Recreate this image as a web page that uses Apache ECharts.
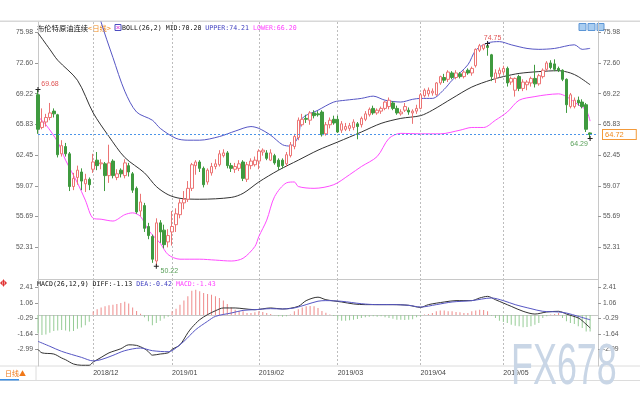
<!DOCTYPE html>
<html><head><meta charset="utf-8">
<script src="https://cdn.jsdelivr.net/npm/echarts@6/dist/echarts.min.js"></script>
<style>html,body{margin:0;padding:0;background:#fff}#c{width:640px;height:400px}</style>
</head><body><div id="c"></div>
<script>
const categories = [
'2018/11/13','2018/11/14','2018/11/15','2018/11/16','2018/11/19','2018/11/20','2018/11/21','2018/11/22','2018/11/23','2018/11/26','2018/11/27','2018/11/28','2018/11/29','2018/11/30',
'2018/12/03','2018/12/04','2018/12/05','2018/12/06','2018/12/07','2018/12/10','2018/12/11','2018/12/12','2018/12/13','2018/12/14','2018/12/17','2018/12/18','2018/12/19','2018/12/20','2018/12/21','2018/12/24','2018/12/26','2018/12/27','2018/12/28','2018/12/31',
'2019/01/02','2019/01/03','2019/01/04','2019/01/07','2019/01/08','2019/01/09','2019/01/10','2019/01/11','2019/01/14','2019/01/15','2019/01/16','2019/01/17','2019/01/18','2019/01/21','2019/01/22','2019/01/23','2019/01/24','2019/01/25','2019/01/28','2019/01/29','2019/01/30','2019/01/31',
'2019/02/01','2019/02/04','2019/02/05','2019/02/06','2019/02/07','2019/02/08','2019/02/11','2019/02/12','2019/02/13','2019/02/14','2019/02/15','2019/02/18','2019/02/19','2019/02/20','2019/02/21','2019/02/22','2019/02/25','2019/02/26','2019/02/27','2019/02/28',
'2019/03/01','2019/03/04','2019/03/05','2019/03/06','2019/03/07','2019/03/08','2019/03/11','2019/03/12','2019/03/13','2019/03/14','2019/03/15','2019/03/18','2019/03/19','2019/03/20','2019/03/21','2019/03/22','2019/03/25','2019/03/26','2019/03/27','2019/03/28','2019/03/29',
'2019/04/01','2019/04/02','2019/04/03','2019/04/04','2019/04/05','2019/04/08','2019/04/09','2019/04/10','2019/04/11','2019/04/12','2019/04/15','2019/04/16','2019/04/17','2019/04/18','2019/04/22','2019/04/23','2019/04/24','2019/04/25','2019/04/26','2019/04/29','2019/04/30',
'2019/05/01','2019/05/02','2019/05/03','2019/05/06','2019/05/07','2019/05/08','2019/05/09','2019/05/10','2019/05/13','2019/05/14','2019/05/15','2019/05/16','2019/05/17','2019/05/20','2019/05/21','2019/05/22','2019/05/23','2019/05/24','2019/05/28','2019/05/29','2019/05/30','2019/05/31',
'2019/06/03'];
const padSlots = [' ', '  '];
const monthStarts = ['2018/12/03','2019/01/02','2019/02/01','2019/03/01','2019/04/01','2019/05/01'];

// [open, close, low, high]
const candles = [
[69.1,65.3,64.8,69.68],[65.5,66.1,65.3,67.6],[66.1,66.6,65.6,67.0],[66.6,67.1,66.3,68.2],[67.3,67.0,66.6,67.6],
[66.9,62.5,62.2,67.0],[62.6,63.5,62.3,64.1],[63.4,62.6,62.3,63.8],[62.6,59.0,58.5,62.8],[59.0,59.9,58.6,60.5],
[60.0,60.8,59.2,61.3],[60.6,59.6,58.6,61.0],[59.3,59.8,58.4,60.4],[59.8,59.2,58.6,60.0],
[60.9,61.7,60.5,62.6],[61.9,61.3,60.8,62.8],[61.5,61.6,60.9,62.0],[61.5,60.2,58.5,61.7],[60.2,61.6,59.4,63.6],
[61.8,60.2,59.9,62.0],[60.0,60.4,59.7,60.9],[60.8,60.4,60.0,61.0],[60.2,61.6,59.9,62.0],[61.3,60.6,60.1,61.6],
[60.4,58.6,58.3,60.6],[58.8,56.2,56.0,59.0],[56.3,57.3,55.7,58.2],[56.9,54.4,54.0,57.2],[54.6,53.6,53.2,55.0],
[53.5,51.0,50.6,53.7],[50.8,55.0,50.22,55.5],[55.0,54.0,52.8,55.3],[54.2,52.6,52.2,54.8],[52.9,53.6,52.3,54.3],
[54.0,54.6,52.5,56.3],[54.8,56.0,54.0,56.6],[55.9,57.2,55.5,57.6],[57.2,57.6,56.5,58.5],[57.6,58.8,57.3,59.6],
[58.8,61.4,58.5,61.6],[61.3,61.7,60.3,61.9],[61.7,61.0,60.6,61.9],[61.0,59.2,58.9,61.2],[59.5,60.8,59.2,61.0],
[60.5,61.2,60.2,61.6],[61.2,61.5,60.9,62.0],[61.4,62.6,61.2,63.0],[62.4,62.7,62.2,63.1],[62.7,61.3,61.0,62.9],
[61.3,61.0,60.6,61.6],[60.9,61.2,60.5,61.6],[61.0,61.5,60.7,61.9],[61.7,59.9,59.6,61.9],[59.8,61.4,59.5,61.7],
[61.3,61.8,60.9,62.1],[61.4,61.9,61.2,62.3],
[61.8,62.9,60.9,63.1],[62.8,63.0,62.4,63.2],[62.7,62.1,61.9,63.0],[61.9,62.7,61.8,63.1],[62.4,61.6,61.4,62.6],
[61.9,61.2,60.8,62.1],[61.9,61.3,61.0,62.1],[61.5,62.5,61.2,62.8],[62.4,63.6,62.2,63.9],[63.4,64.5,63.1,64.8],
[64.4,66.3,64.1,66.6],[65.8,66.4,65.6,67.0],[66.5,66.4,66.0,66.9],[66.3,67.1,65.8,67.3],[67.1,66.8,66.5,67.4],
[67.0,66.9,66.7,67.3],[67.2,64.7,64.5,67.4],[64.8,65.8,64.6,66.1],[65.8,66.3,65.4,66.6],[66.4,66.0,65.8,66.8],
[66.4,65.0,64.9,66.8],[65.2,65.9,64.9,66.2],[65.3,65.6,65.1,66.0],[65.4,65.7,65.1,66.0],[65.5,66.1,65.2,66.4],
[65.9,65.6,64.2,66.1],[65.8,66.5,65.5,66.7],[66.4,67.0,66.2,67.3],[66.9,67.5,66.7,67.7],[67.6,67.1,66.9,67.9],
[67.1,67.4,66.9,67.6],[67.3,67.6,67.0,67.8],[67.6,68.3,67.4,68.4],[67.8,68.5,67.5,68.8],[68.2,67.6,67.4,68.4],
[67.6,67.1,66.9,67.9],[67.0,67.2,66.8,67.5],[67.4,67.8,67.2,68.2],[67.4,67.2,66.9,67.7],[67.1,67.3,65.9,67.5],
[67.3,67.6,67.0,68.0],
[67.6,69.1,67.5,69.3],[69.0,69.6,68.8,69.8],[69.2,69.6,68.9,69.9],[69.3,69.5,69.0,69.8],[69.1,70.4,69.0,70.5],
[70.4,71.1,70.2,71.2],[71.0,70.7,70.4,71.4],[70.8,71.6,70.5,71.8],[71.5,71.0,70.8,71.7],[71.0,71.5,70.8,71.8],
[71.4,71.1,70.9,71.6],[71.1,71.6,70.9,71.8],[71.8,71.5,71.3,72.0],[71.5,72.0,71.2,72.2],[72.3,74.1,72.1,74.2],
[74.0,74.5,73.8,74.7],[74.2,74.6,74.0,74.7],[74.5,74.3,73.4,74.75],[73.5,71.1,70.6,73.6],[70.9,71.5,70.4,71.9],
[71.4,71.8,71.0,72.1],
[71.6,72.0,71.3,72.3],[72.0,70.4,70.0,72.2],[70.5,70.9,70.2,71.1],[69.6,70.9,68.9,71.0],[71.1,69.8,69.5,71.3],
[69.8,70.5,69.5,70.8],[70.2,70.5,69.6,70.7],[70.4,70.9,70.0,71.1],[70.9,70.3,69.9,72.4],[70.3,71.2,70.1,71.4],
[71.1,71.8,70.9,72.0],[71.9,72.6,71.7,72.8],[72.6,72.1,71.9,72.9],[72.5,71.9,71.7,73.0],[72.0,71.8,71.6,72.2],
[71.8,70.8,70.6,71.9],[70.8,68.0,67.1,70.9],[67.8,69.1,67.6,69.3],[67.8,68.5,67.6,68.8],[68.5,68.2,67.9,68.9],
[68.3,67.8,67.6,68.6],[68.0,65.3,65.0,68.2],
[64.9,64.72,64.29,64.95]];

// Bollinger key points: [candle index, value]
const bollMid = [[0,75.9],[3,74.1],[5,72.9],[10,70.7],[14,67.1],[18,64.5],[22,62.2],[27,60.5],[30,59.0],[33,58.1],[36,57.7],[41,57.6],[49,57.8],[52,58.25],[56,59.5],[61,60.8],[66,61.9],[71,63.0],[76,63.9],[82,65.0],[87,65.95],[92,66.5],[97,66.8],[100,67.4],[105,68.7],[110,69.95],[115,70.75],[118,71.1],[122,71.45],[127,71.65],[132,71.75],[135,71.5],[137,71.1],[140,70.2]];
const bollUpper = [[13,80.5],[15,79.0],[16,77.1],[19,73.2],[22,69.5],[25,67.2],[29,66.3],[31,65.4],[35,64.3],[38,64.1],[41,64.1],[46,64.5],[50,65.1],[54,65.6],[56,65.4],[59,64.65],[62,63.6],[64,63.45],[66,64.5],[67,66.5],[71,67.4],[75,68.3],[78,68.5],[82,68.7],[85,68.95],[88,68.5],[92,68.3],[95,68.6],[97,68.7],[100,68.7],[103,69.7],[105,70.7],[109,72.4],[111,74.0],[114,74.8],[117,74.95],[120,74.6],[124,74.2],[127,74.1],[131,74.2],[136,74.6],[138,74.1],[140,74.21]];
const bollLower = [[0,66.7],[2,65.8],[5,63.9],[7,61.9],[10,59.4],[12,57.5],[14,55.5],[16,55.4],[19,55.2],[22,55.9],[24,56.1],[26,55.7],[28,54.2],[31,52.75],[33,51.5],[36,51.0],[41,51.0],[45,50.9],[49,50.8],[52,51.1],[55,52.4],[56,53.5],[58,55.3],[60,57.9],[63,59.4],[65,59.5],[66,59.0],[70,58.8],[75,59.2],[79,60.3],[82,61.2],[86,62.3],[89,64.3],[92,64.85],[97,64.8],[102,64.8],[107,65.2],[110,65.5],[113,65.5],[116,66.3],[119,67.2],[122,68.5],[126,68.9],[129,69.1],[132,69.2],[134,68.9],[137,68.0],[139,67.4],[140,66.2]];

// MACD
const macdDiff = [[0,-3.0],[1,-3.3],[4,-3.4],[6,-3.75],[7,-3.9],[9,-4.27],[11,-4.38],[13,-4.38],[14,-4.1],[16,-3.7],[18,-3.3],[21,-2.94],[23,-2.6],[25,-2.65],[27,-2.94],[28,-3.2],[29,-3.5],[31,-3.4],[33,-3.3],[34,-3.0],[36,-2.6],[38,-1.55],[39,-1.1],[41,-0.41],[43,0.03],[45,0.37],[47,0.61],[50,0.61],[52,0.55],[55,0.46],[59,0.61],[62,0.52],[66,0.75],[68,1.25],[71,1.55],[73,1.33],[77,1.13],[80,0.96],[83,0.9],[90,0.9],[94,0.84],[97,0.66],[99,0.9],[103,1.13],[106,1.25],[110,1.25],[112,1.48],[114,1.62],[116,1.33],[120,0.75],[123,0.32],[126,0.08],[129,0.26],[132,0.32],[134,0.08],[137,-0.26],[138,-0.5],[140,-1.13]];
const macdDea = [[0,-2.3],[3,-2.73],[6,-3.17],[11,-3.69],[14,-4.0],[16,-3.89],[19,-3.52],[22,-3.11],[26,-2.88],[29,-3.11],[33,-3.2],[34,-3.11],[37,-2.3],[40,-1.28],[43,-0.55],[45,-0.12],[49,0.17],[52,0.4],[55,0.46],[59,0.55],[62,0.52],[65,0.61],[68,0.9],[71,1.2],[73,1.25],[77,1.19],[82,0.98],[86,0.9],[90,0.9],[94,0.84],[97,0.69],[101,0.9],[105,1.13],[110,1.25],[115,1.48],[118,1.25],[121,0.9],[125,0.55],[128,0.32],[132,0.26],[134,0.17],[137,-0.12],[140,-0.42]];
const macdHist = [
-1.6,-1.75,-1.7,-1.55,-1.4,-1.35,-1.3,-1.35,-1.45,-1.4,-1.2,-1.1,-0.9,-0.6,
0.3,0.5,0.65,0.75,0.85,0.9,0.95,1.05,1.15,1.0,0.65,0.35,0.1,
-0.2,-0.55,-0.9,-0.7,-0.5,-0.3,-0.15,
0.32,0.55,0.9,1.25,1.62,2.12,2.2,2.06,1.91,1.83,1.77,1.62,1.48,1.25,0.96,0.66,0.46,0.32,0.32,0.17,0.17,0.23,0.32,0.26,0.17,0.08,
-0.03,-0.12,-0.15,-0.12,
0.03,0.32,0.5,0.65,0.75,0.78,0.75,0.6,0.35,0.2,0.05,-0.1,
-0.4,-0.5,-0.5,-0.47,-0.41,-0.35,-0.26,-0.2,-0.15,-0.12,-0.15,-0.12,-0.2,-0.26,-0.32,-0.41,-0.41,-0.44,-0.41,-0.38,-0.2,
-0.1,0.03,0.08,0.17,0.32,0.38,0.38,0.32,0.32,0.26,0.23,0.17,0.17,0.32,0.38,0.46,0.43,0.32,
-0.06,-0.26,-0.5,-0.61,-0.7,-0.85,-0.93,-0.99,-1.08,-1.05,-0.99,-0.85,-0.7,-0.26,-0.12,0.03,0.08,0.17,-0.26,-0.55,-0.7,-0.79,-0.99,-1.14,-1.43,-1.43];

const priceTickLabels = ['52.31','55.69','59.07','62.45','65.83','69.22','72.60','75.98'];
const macdTickLabels = ['-2.99','-1.64','-0.29','1.06','2.41'];
const lastPrice = 64.72;
// extremes: [candle index, value, side]
const extremes = [[0,69.68,'high'],[30,50.22,'low'],[114,74.75,'high'],[140,64.29,'low']];

const UP = '#ec7474', DOWN = '#3f9a3f';
const axisFont = 'Liberation Sans';
const mono = 'DejaVu Sans Mono';
const xData = categories.concat(padSlots);
const isMonth = (i, v) => monthStarts.indexOf(v) >= 0;

const priceVals = priceTickLabels.map(Number);
const macdVals = macdTickLabels.map(Number);

function yAx(grid, pos, min, max, vals) {
  return {
    type: 'value', gridIndex: grid, position: pos, min: min, max: max, scale: true,
    axisLine: {show: true, lineStyle: {color: '#c8c8c8'}},
    axisTick: {show: true, length: 3, customValues: vals, lineStyle: {color: '#999'}},
    axisLabel: {show: true, customValues: vals, formatter: v => v.toFixed(2), fontSize: 6.8, color: '#555', fontFamily: axisFont, margin: 5},
    splitLine: {show: false}
  };
}

const markPts = extremes.map(e => {
  const hi = e[2] === 'high';
  let off;
  if (e[0] === 0) off = [12, -5];
  else if (e[0] > 130) off = [-11, 6];
  else if (hi) off = [5, -5];
  else off = [13, 5];
  return {
    coord: [e[0], e[1]], value: e[1].toFixed(2),
    label: {show: true, position: 'inside', offset: off, color: hi ? '#e05555' : '#5aa05a', fontSize: 7, fontFamily: axisFont}
  };
});

const chart = echarts.init(document.getElementById('c'), null, {renderer: 'canvas'});
chart.setOption({
  animation: false,
  backgroundColor: '#fff',
  grid: [
    {left: 38, top: 22, width: 560, height: 257},
    {left: 38, top: 279, width: 560, height: 87}
  ],
  xAxis: [
    {type: 'category', gridIndex: 0, data: xData, boundaryGap: false,
     axisLine: {show: true, lineStyle: {color: '#c8c8c8'}}, axisTick: {show: false}, axisLabel: {show: false},
     splitLine: {show: true, interval: isMonth, lineStyle: {color: '#bdbdbd', type: [2, 2]}}},
    {type: 'category', gridIndex: 1, data: xData, boundaryGap: false,
     axisLine: {show: true, lineStyle: {color: '#c8c8c8'}}, axisTick: {show: false},
     axisLabel: {show: true, interval: isMonth, formatter: v => v.slice(0, 7), align: 'left', fontSize: 7, color: '#444', fontFamily: axisFont, margin: 4},
     splitLine: {show: true, interval: isMonth, lineStyle: {color: '#bdbdbd', type: [2, 2]}}}
  ],
  yAxis: [
    yAx(0, 'left', 48.82, 77.11, priceVals),
    yAx(0, 'right', 48.82, 77.11, priceVals),
    yAx(1, 'left', -4.445, 3.133, macdVals),
    yAx(1, 'right', -4.445, 3.133, macdVals)
  ],
  series: [
    {type: 'line', name: 'MID', xAxisIndex: 0, yAxisIndex: 0, data: bollMid, showSymbol: false, smooth: 0.3, lineStyle: {color: '#333', width: 1}, z: 3},
    {type: 'line', name: 'UPPER', xAxisIndex: 0, yAxisIndex: 0, data: bollUpper, showSymbol: false, smooth: 0.3, lineStyle: {color: '#5656c4', width: 1}, z: 3},
    {type: 'line', name: 'LOWER', xAxisIndex: 0, yAxisIndex: 0, data: bollLower, showSymbol: false, smooth: 0.3, lineStyle: {color: '#ff4cff', width: 1}, z: 3},
    {type: 'candlestick', name: 'price', xAxisIndex: 0, yAxisIndex: 0, data: candles, barWidth: 3, clip: false, z: 4,
     itemStyle: {color: '#fff', color0: DOWN, borderColor: UP, borderColor0: DOWN, borderWidth: 1},
     markLine: {symbol: 'none', silent: true, animation: false,
       lineStyle: {color: '#4a94e8', type: [2, 2], width: 1},
       label: {show: true, position: 'end', formatter: lastPrice.toFixed(2), color: '#f08a1c', backgroundColor: '#fff', borderColor: '#f39a3a', borderWidth: 1, padding: [1, 12, 0, 2], fontSize: 7.5, fontFamily: axisFont, distance: 5},
       data: [{yAxis: lastPrice}]},
     markPoint: {symbol: 'path://M0,2L5,2L5,3L0,3Z M2,0L3,0L3,5L2,5Z', symbolSize: 5, itemStyle: {color: '#222'}, animation: false, data: markPts}
    },
    {type: 'bar', name: 'MACD', xAxisIndex: 1, yAxisIndex: 2, data: macdHist, barWidth: 1, z: 2,
     itemStyle: {color: p => p.value >= 0 ? '#ef8a8a' : '#96cc96'}},
    {type: 'line', name: 'DIFF', xAxisIndex: 1, yAxisIndex: 2, data: macdDiff, showSymbol: false, smooth: 0.3, lineStyle: {color: '#333', width: 1}, z: 3},
    {type: 'line', name: 'DEA', xAxisIndex: 1, yAxisIndex: 2, data: macdDea, showSymbol: false, smooth: 0.3, lineStyle: {color: '#5656c4', width: 1}, z: 3}
  ],
  graphic: [
    {type: 'rect', shape: {x: 0, y: 20.5, width: 640, height: 1.5}, style: {fill: '#d8d8d8'}, silent: true},
    {type: 'text', x: 37, y: 28, silent: true, style: {text: '{a|布伦特原油连续}{b|<日线>}', verticalAlign: 'middle',
      rich: {a: {fontSize: 7.3, fill: '#111', fontFamily: 'Noto Sans CJK SC'}, b: {fontSize: 7.3, fill: '#f08a1c', fontFamily: 'Noto Sans CJK SC'}}}},
    {type: 'rect', shape: {x: 115, y: 24.5, width: 6, height: 6}, style: {fill: '#fff', stroke: '#4c4cc0', lineWidth: 1}, silent: true},
    {type: 'line', shape: {x1: 116.5, y1: 26, x2: 119.5, y2: 29}, style: {stroke: '#e04ae0', lineWidth: 1}, silent: true},
    {type: 'line', shape: {x1: 119.5, y1: 26, x2: 116.5, y2: 29}, style: {stroke: '#e04ae0', lineWidth: 1}, silent: true},
    {type: 'text', x: 122, y: 28, silent: true, style: {text: '{k|BOLL(26,2) MID:70.20 }{u|UPPER:74.21 }{l|LOWER:66.20}', verticalAlign: 'middle',
      rich: {k: {fontSize: 6.6, fill: '#111', fontFamily: mono}, u: {fontSize: 6.6, fill: '#4040c0', fontFamily: mono}, l: {fontSize: 6.6, fill: '#ff40ff', fontFamily: mono}}}},
    {type: 'text', x: 37, y: 284, silent: true, z: 10, style: {text: '{k|MACD(26,12,9) DIFF:-1.13 }{u|DEA:-0.42 }{l|MACD:-1.43}', verticalAlign: 'middle',
      rich: {k: {fontSize: 6.6, fill: '#111', fontFamily: mono}, u: {fontSize: 6.6, fill: '#4040c0', fontFamily: mono}, l: {fontSize: 6.6, fill: '#ff40ff', fontFamily: mono}}}},
    {type: 'circle', shape: {cx: 3.5, cy: 283, r: 2.2}, style: {fill: 'none', stroke: '#e03030', lineWidth: 1}, silent: true},
    {type: 'line', shape: {x1: 0, y1: 283, x2: 7, y2: 283}, style: {stroke: '#e03030', lineWidth: 1}, silent: true},
    {type: 'line', shape: {x1: 3.5, y1: 279.5, x2: 3.5, y2: 286.5}, style: {stroke: '#e03030', lineWidth: 1}, silent: true},
    {type: 'rect', shape: {x: 579, y: 23.5, width: 7, height: 7}, style: {fill: '#a9cdf0', stroke: '#5c96d6', lineWidth: 1}, silent: true},
    {type: 'rect', shape: {x: 588, y: 23.5, width: 7, height: 7}, style: {fill: '#a9cdf0', stroke: '#5c96d6', lineWidth: 1}, silent: true},
    {type: 'rect', shape: {x: 597, y: 23.5, width: 7, height: 7}, style: {fill: '#a9cdf0', stroke: '#5c96d6', lineWidth: 1}, silent: true},
    {type: 'line', shape: {x1: 0, y1: 366, x2: 640, y2: 366}, style: {stroke: '#dcdcdc', lineWidth: 1}, silent: true},
    {type: 'line', shape: {x1: 0, y1: 380.5, x2: 640, y2: 380.5}, style: {stroke: '#dcdcdc', lineWidth: 1}, silent: true},
    {type: 'line', shape: {x1: 36, y1: 366, x2: 36, y2: 380}, style: {stroke: '#dcdcdc', lineWidth: 1}, silent: true},
    {type: 'text', x: 5, y: 373, silent: true, style: {text: '日线▲', verticalAlign: 'middle', fontSize: 7, fill: '#f07818', fontFamily: 'Noto Sans CJK SC'}},
    {type: 'rect', shape: {x: 0, y: 379, width: 19, height: 1.5}, style: {fill: '#3a8ee6'}, silent: true},
    {type: 'text', x: 511, y: 397, scaleX: 0.63, z: 100, silent: true, style: {text: 'FX678', verticalAlign: 'bottom', fontSize: 57, fill: '#c9d6e6', fontFamily: 'Liberation Sans',
      shadowColor: 'rgba(90,90,90,0.55)', shadowOffsetX: 1.5, shadowOffsetY: 1.5, shadowBlur: 1}}
  ]
});
</script></body></html>
